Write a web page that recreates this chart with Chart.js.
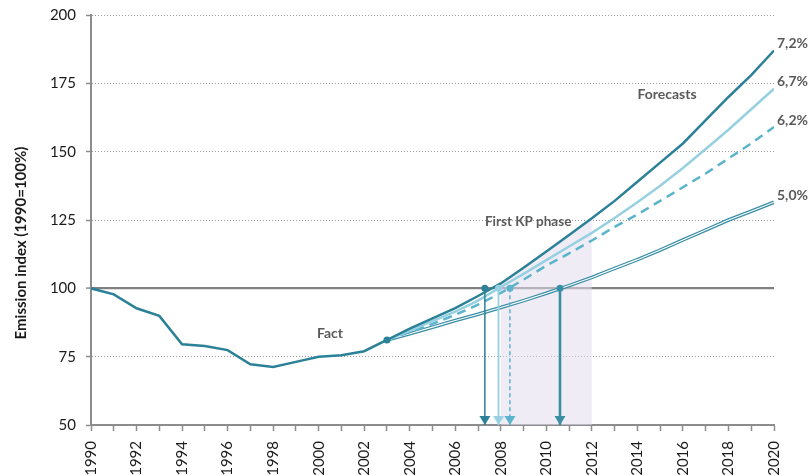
<!DOCTYPE html>
<html>
<head>
<meta charset="utf-8">
<script src="https://cdn.jsdelivr.net/npm/chart.js@4/dist/chart.umd.min.js"></script>
<style>
html,body{margin:0;padding:0;background:#fff;}
#wrap{width:808px;height:475px;position:relative;}
</style>
</head>
<body>
<div id="wrap"><canvas id="c" width="808" height="475"></canvas></div>
<script>
// ---- data ----
const factYears = [1990,1991,1992,1993,1994,1995,1996,1997,1998,1999,2000,2001,2002,2003];
const factValues = [100,97.8,92.7,89.9,79.5,78.9,77.4,72.2,71.2,73.1,75.0,75.5,77.0,81.1];

const forecastYears = [2003,2004,2005,2006,2007,2008,2009,2010,2011,2012,2013,2014,2015,2016,2017,2018,2019,2020];
const forecast72 = [81.1,85.3,89.0,92.8,97.2,101.8,107.5,113.5,119.5,125.6,132.0,139.0,146.0,153.0,161.5,170.0,178.0,187.0];
const forecast67 = [81.1,84.5,88.0,91.5,95.5,100.5,105.3,110.3,115.3,120.3,125.7,131.5,137.5,144.0,151.0,158.0,165.5,173.0];
const forecast62 = [81.1,84.0,87.0,90.3,94.0,98.3,103.2,108.3,112.8,117.5,122.5,127.0,132.0,137.0,142.0,147.5,153.0,159.0];
const forecast50 = [81.1,83.4,85.8,88.2,90.5,93.0,95.5,98.2,101.0,104.0,107.3,110.5,114.0,117.7,121.3,125.0,128.2,131.5];

const seriesLabels = ['7,2%','6,7%','6,2%','5,0%'];
const crossYears = [2007.3, 2007.9, 2008.4, 2010.6]; // year each forecast reaches 100
const baseLevel = 100;
const axisMin = 50;
const kpStart = 2008, kpEnd = 2012;
const yTicks = [50,75,100,125,150,175,200];

// ---- styles ----
const DARK = '#2b8197';
const LIGHT = '#97d0e1';
const MID = '#5bb4cb';
const TEAL = '#3a8ea6';
const FONT = 'Lato, "Open Sans", sans-serif';

function pts(xs, ys){ return xs.map((x,i)=>({x:x, y:ys[i]})); }

function arrowImg(color){
  const c = document.createElement('canvas');
  c.width = 12; c.height = 20;
  const g = c.getContext('2d');
  g.fillStyle = color;
  g.beginPath(); g.moveTo(0.5,1); g.lineTo(11.5,1); g.lineTo(6,10); g.closePath(); g.fill();
  return c;
}

function arrowDataset(x, color, width, dash){
  return {
    data: [{x:x, y:baseLevel},{x:x, y:axisMin}],
    borderColor: color, borderWidth: width, borderDash: dash || [],
    pointStyle: ['circle', arrowImg(color)],
    pointRadius: [3.5, 6], pointBackgroundColor: color, pointBorderWidth: 0,
    fill: false, order: 1
  };
}

const kpX = forecastYears.filter(y => y >= kpStart && y <= kpEnd);
const kpY = kpX.map(y => forecast72[forecastYears.indexOf(y)]);

const datasets = [
  { // KP shaded phase
    data: pts(kpX, kpY), borderWidth: 0, pointRadius: 0,
    fill: 'start', backgroundColor: 'rgba(226,220,236,0.55)', order: 20
  },
  { data: pts(factYears, factValues), borderColor: DARK, borderWidth: 2.5, pointRadius: 0, order: 2 },
  { data: pts(forecastYears, forecast50), borderColor: TEAL, borderWidth: 3.6, pointRadius: 0, order: 6 },
  { data: pts(forecastYears, forecast50), borderColor: '#ffffff', borderWidth: 1.1, pointRadius: 0, order: 5 },
  { data: pts(forecastYears, forecast62), borderColor: MID, borderWidth: 2.5, borderDash: [9,6], pointRadius: 0, order: 4 },
  { data: pts(forecastYears, forecast67), borderColor: LIGHT, borderWidth: 2.5, pointRadius: 0, order: 3 },
  { data: pts(forecastYears, forecast72), borderColor: DARK, borderWidth: 2.5, pointRadius: 0, order: 2 },
  { data: [{x:factYears[factYears.length-1], y:factValues[factValues.length-1]}], pointRadius: 3.5,
    pointBackgroundColor: DARK, pointBorderWidth: 0, showLine: false, order: 0 },
  arrowDataset(crossYears[0], DARK, 1.5),
  arrowDataset(crossYears[1], LIGHT, 1.8),
  arrowDataset(crossYears[2], MID, 1.5, [4,3]),
  arrowDataset(crossYears[3], TEAL, 2.6)
];

const textPlugin = {
  id: 'texts',
  afterDatasetsDraw(chart){
    const {ctx, scales:{x, y}} = chart;
    ctx.save();
    ctx.fillStyle = '#5a5a5a';
    ctx.font = 'bold 14px ' + FONT;
    ctx.textBaseline = 'middle';
    ctx.textAlign = 'center';
    ctx.fillText('Forecasts', x.getPixelForValue(2015.3), y.getPixelForValue(171.1));
    ctx.font = 'bold 13.5px ' + FONT;
    ctx.fillText('First KP phase', x.getPixelForValue(2009.2), y.getPixelForValue(124.3));
    ctx.font = 'bold 14px ' + FONT;
    ctx.fillText('Fact', x.getPixelForValue(2000.5), y.getPixelForValue(83.3));
    // end labels
    const ends = [forecast72, forecast67, forecast62, forecast50];
    ctx.textAlign = 'left';
    ctx.font = 'bold 14px ' + FONT;
    const lastX = forecastYears[forecastYears.length-1];
    ends.forEach((s,i)=>{
      ctx.fillText(seriesLabels[i], x.getPixelForValue(lastX) + 3, y.getPixelForValue(s[s.length-1]) - 7);
    });
    // y title
    ctx.fillStyle = '#1a1a1a';
    ctx.font = 'bold 15px ' + FONT;
    ctx.translate(21, 243);
    ctx.rotate(-Math.PI/2);
    ctx.textAlign = 'center';
    ctx.fillText('Emission index (1990=100%)', 0, 0);
    ctx.restore();
  }
};

new Chart(document.getElementById('c'), {
  type: 'line',
  data: { datasets },
  plugins: [textPlugin],
  options: {
    responsive: false,
    animation: false,
    devicePixelRatio: 1,
    layout: { padding: { top: 15, right: 34, left: 0, bottom: 0 } },
    plugins: { legend: { display: false }, tooltip: { enabled: false } },
    elements: { line: { tension: 0 } },
    scales: {
      x: {
        type: 'linear', min: 1990, max: 2020,
        afterFit: (s) => { s.height = 50; s.paddingLeft = 0; s.paddingRight = 0; },
        ticks: {
          stepSize: 1, autoSkip: false, minRotation: 90, maxRotation: 90,
          padding: 10, color: '#1a1a1a', font: { family: FONT, size: 15 },
          callback: (v) => (v % 2 === 0 ? String(v) : '')
        },
        grid: { drawOnChartArea: false, tickLength: 6, tickColor: '#8c8c8c', tickWidth: 1.5 },
        border: { color: '#8c8c8c', width: 2 }
      },
      y: {
        min: 50, max: 200,
        afterFit: (s) => { s.width = 91; s.paddingTop = 0; s.paddingBottom = 0; },
        afterBuildTicks: (s) => { s.ticks = yTicks.map(v => ({value: v})); },
        ticks: { padding: 10, color: '#1a1a1a', font: { family: FONT, size: 15 } },
        grid: {
          color: (c) => (c.tick && c.tick.value === baseLevel ? '#808080' : '#9a9a9a'),
          lineWidth: (c) => (c.tick && c.tick.value === baseLevel ? 2.2 : 1),
          tickLength: 5, tickColor: '#8c8c8c', tickWidth: 1.5
        },
        border: {
          color: '#8c8c8c', width: 2,
          dash: (c) => (c.tick && c.tick.value === baseLevel ? [] : [1, 2])
        }
      }
    }
  }
});
</script>
</body>
</html>
